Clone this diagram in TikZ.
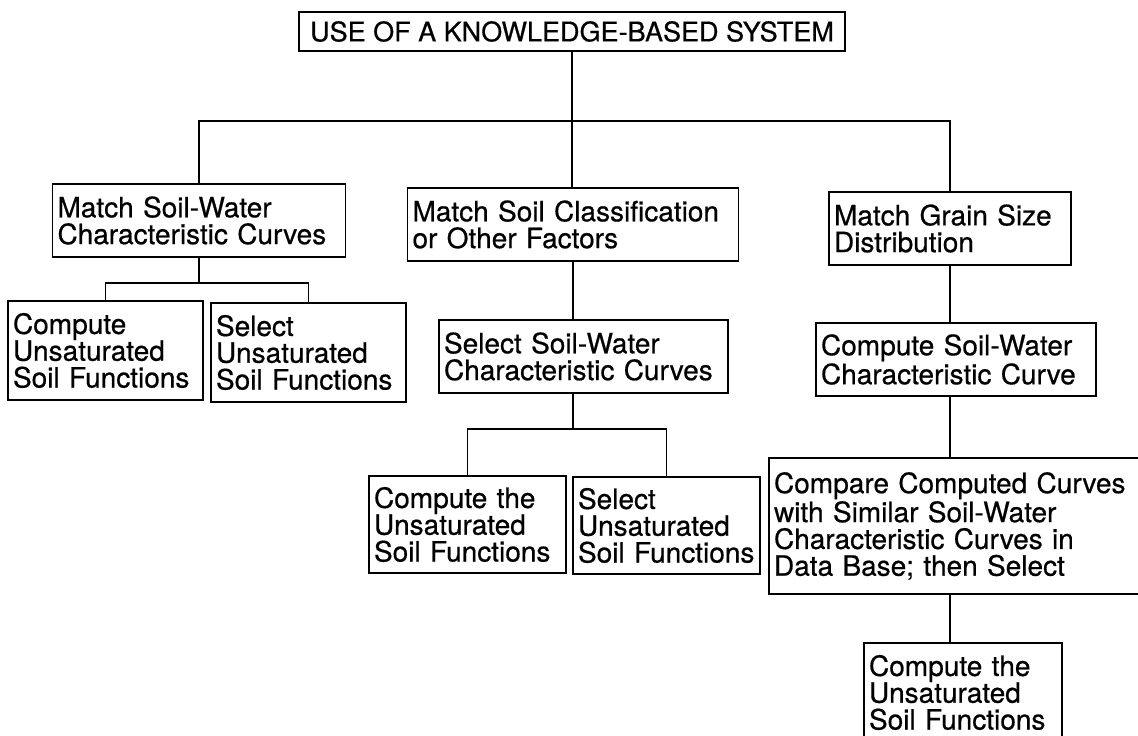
\documentclass[tikz,border=0pt]{standalone}
\usepackage{fontspec}
\setmainfont{TeX Gyre Heros}[FakeBold=0.6]
\begin{document}
\begin{tikzpicture}[x=0.5pt,y=-0.5pt,
	box/.style={draw, line width=0.8pt, inner xsep=2.5pt, inner ysep=0pt, align=left, font=\fontsize{14}{13.4}\selectfont},
	link/.style={line width=0.7pt}]
	\useasboundingbox (0,0) rectangle (1138,735);
	\clip (0,0) rectangle (1138,735);
	% top
	\node[box, font=\fontsize{13.5}{16}\selectfont, minimum width=273pt, minimum height=19.5pt, align=center] (use) at (572,31.5) {USE OF A KNOWLEDGE-BASED SYSTEM};
	
	% second row
	\node[box, text width=141.5pt, minimum height=36.5pt] (matchswc) at (199,220.5) {Match Soil-Water\\Characteristic Curves};
	\node[box, text width=160.5pt, minimum height=36.5pt] (matchcls) at (573,224.5) {Match Soil Classification\\or Other Factors};
	\node[box, text width=116pt, minimum height=36.5pt] (matchgrain) at (950,228.5) {Match Grain Size\\Distribution};
	
	% third row
	\node[box, text width=92.5pt, minimum height=49.5pt] (compA) at (105.5,350.5) {Compute\\Unsaturated\\Soil Functions};
	\node[box, text width=92.5pt, minimum height=49.5pt] (selA) at (308.5,352.5) {Select\\Unsaturated\\Soil Functions};
	\node[box, text width=139.5pt, minimum height=36.5pt] (selswc) at (583.5,356.5) {Select Soil-Water\\Characteristic Curves};
	\node[box, text width=135pt, minimum height=36.5pt] (compswc) at (956,359.5) {Compute Soil-Water\\Characteristic Curve};
	
	% fourth row
	\node[box, text width=93.5pt, minimum height=48.5pt] (compB) at (467.5,524.5) {Compute the\\Unsaturated\\Soil Functions};
	\node[box, text width=88.5pt, minimum height=48.5pt] (selB) at (666.5,525.5) {Select\\Unsaturated\\Soil Functions};
	\node[box, text width=183.5pt, minimum height=68pt] (compare) at (957.5,526) {Compare Computed Curves\\with Similar Soil-Water\\Characteristic Curves in\\Data Base; then Select};
	\node[box, text width=94pt, minimum height=49.5pt] (compC) at (963,692.5) {Compute the\\Unsaturated\\Soil Functions};
	
	\coordinate (bar1) at (0,121);
	\coordinate (bar2) at (0,283);
	\coordinate (bar3) at (0,429);
	
	\draw[link] (use.south) -- (use.south |- matchcls.north);
	\draw[link] (matchswc.north) |- (matchgrain.north |- bar1) -- (matchgrain.north);
	
	\draw[link] (matchswc.south) -- (matchswc.south |- bar2);
	\draw[link] (compA.north) |- (selA.north |- bar2) -- (selA.north);
	
	\draw[link] (matchcls.south) -- (matchcls.south |- selswc.north);
	\draw[link] (matchcls.south |- selswc.south) -- (matchcls.south |- bar3);
	\draw[link] (compB.north) |- (selB.north |- bar3) -- (selB.north);
	
	\draw[link] (matchgrain.south) -- (matchgrain.south |- compswc.north);
	\draw[link] (matchgrain.south |- compswc.south) -- (matchgrain.south |- compare.north);
	\draw[link] (matchgrain.south |- compare.south) -- (matchgrain.south |- compC.north);
\end{tikzpicture}
\end{document}
